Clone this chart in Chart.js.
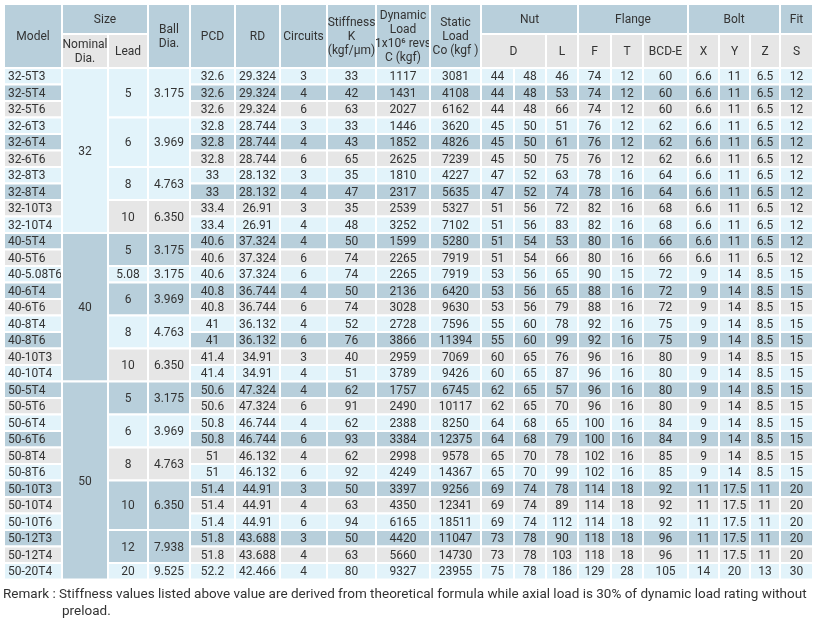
<!DOCTYPE html>
<html><head><meta charset="utf-8">
<script src="https://cdn.jsdelivr.net/npm/chart.js@4/dist/chart.umd.min.js"></script>
<style>html,body{margin:0;padding:0;background:#fff}#wrap{width:817px;height:624px}</style>
</head><body><div id="wrap"><canvas id="c" width="817" height="624"></canvas></div>
<script>
// ---- data ----
const models=["32-5T3","32-5T4","32-5T6","32-6T3","32-6T4","32-6T6","32-8T3","32-8T4","32-10T3","32-10T4",
"40-5T4","40-5T6","40-5.08T6","40-6T4","40-6T6","40-8T4","40-8T6","40-10T3","40-10T4",
"50-5T4","50-5T6","50-6T4","50-6T6","50-8T4","50-8T6","50-10T3","50-10T4","50-10T6","50-12T3","50-12T4","50-20T4"];
const nominalGroups=[["32",10],["40",9],["50",12]];
const leadGroups=[["5","3.175",3],["6","3.969",3],["8","4.763",2],["10","6.350",2],
["5","3.175",2],["5.08","3.175",1],["6","3.969",2],["8","4.763",2],["10","6.350",2],
["5","3.175",2],["6","3.969",2],["8","4.763",2],["10","6.350",3],["12","7.938",2],["20","9.525",1]];
const pcd=["32.6","32.6","32.6","32.8","32.8","32.8","33","33","33.4","33.4","40.6","40.6","40.6","40.8","40.8","41","41","41.4","41.4","50.6","50.6","50.8","50.8","51","51","51.4","51.4","51.4","51.8","51.8","52.2"];
const rd=["29.324","29.324","29.324","28.744","28.744","28.744","28.132","28.132","26.91","26.91","37.324","37.324","37.324","36.744","36.744","36.132","36.132","34.91","34.91","47.324","47.324","46.744","46.744","46.132","46.132","44.91","44.91","44.91","43.688","43.688","42.466"];
const circuits=[3,4,6,3,4,6,3,4,3,4,4,6,6,4,6,4,6,3,4,4,6,4,6,4,6,3,4,6,3,4,4];
const stiffness=[33,42,63,33,43,65,35,47,35,48,50,74,74,50,74,52,76,40,51,62,91,62,93,62,92,50,63,94,50,63,80];
const dynLoad=[1117,1431,2027,1446,1852,2625,1810,2317,2539,3252,1599,2265,2265,2136,3028,2728,3866,2959,3789,1757,2490,2388,3384,2998,4249,3397,4350,6165,4420,5660,9327];
const staticLoad=[3081,4108,6162,3620,4826,7239,4227,5635,5327,7102,5280,7919,7919,6420,9630,7596,11394,7069,9426,6745,10117,8250,12375,9578,14367,9256,12341,18511,11047,14730,23955];
const nutD1=[44,44,44,45,45,45,47,47,51,51,51,51,53,53,53,55,55,60,60,62,62,64,64,65,65,69,69,69,73,73,75];
const nutD2=[48,48,48,50,50,50,52,52,56,56,54,54,56,56,56,60,60,65,65,65,65,68,68,70,70,74,74,74,78,78,78];
const nutL=[46,53,66,51,61,75,63,74,72,83,53,66,65,65,79,78,99,76,87,57,70,65,79,78,99,78,89,112,90,103,186];
const flF=[74,74,74,76,76,76,78,78,82,82,80,80,90,88,88,92,92,96,96,96,96,100,100,102,102,114,114,114,118,118,129];
const flT=[12,12,12,12,12,12,16,16,16,16,16,16,15,16,16,16,16,16,16,16,16,16,16,16,16,18,18,18,18,18,28];
const bcd=[60,60,60,62,62,62,64,64,68,68,66,66,72,72,72,75,75,80,80,80,80,84,84,85,85,92,92,92,96,96,105];
const boltX=["6.6","6.6","6.6","6.6","6.6","6.6","6.6","6.6","6.6","6.6","6.6","6.6","9","9","9","9","9","9","9","9","9","9","9","9","9","11","11","11","11","11","14"];
const boltY=["11","11","11","11","11","11","11","11","11","11","11","11","14","14","14","14","14","14","14","14","14","14","14","14","14","17.5","17.5","17.5","17.5","17.5","20"];
const boltZ=["6.5","6.5","6.5","6.5","6.5","6.5","6.5","6.5","6.5","6.5","6.5","6.5","8.5","8.5","8.5","8.5","8.5","8.5","8.5","8.5","8.5","8.5","8.5","8.5","8.5","11","11","11","11","11","13"];
const fitS=[12,12,12,12,12,12,12,12,12,12,12,12,15,15,15,15,15,15,15,15,15,15,15,15,15,20,20,20,20,20,30];
const remark1="Remark : Stiffness values listed above value are derived from theoretical formula while axial load is 30% of dynamic load rating without";
const remark2="preload.";

// ---- layout (value space of the scales) ----
const colEdges=[4,62,108,148,190,235,280,327,376,430,481,514,546,578,611,643,688,719,750,780,813];
const yTop=4,yMid=34,yHead=68,rowH=16.5;
const rowColors=["#e2f3fa","#b8cfdb","#e6e6e6"];
const headBg="#b8cfdb",subBg="#e6e6e6",txt="#333";

const tablePlugin={id:'table',afterDraw(chart){
 const ctx=chart.ctx,X=v=>chart.scales.x.getPixelForValue(v),Y=v=>chart.scales.y.getPixelForValue(v);
 ctx.save();
 function cell(c0,c1,y0,y1,bg,lines,align,head){
  const x0=X(colEdges[c0]),x1=X(colEdges[c1]),py0=Y(y0),py1=Y(y1);
  ctx.fillStyle=bg;ctx.fillRect(x0,py0,x1-x0,py1-py0);
  ctx.strokeStyle="#fff";ctx.lineWidth=2;ctx.strokeRect(x0,py0,x1-x0,py1-py0);
  if(!lines)return;
  ctx.fillStyle=txt;ctx.font=head?"12px Roboto, sans-serif":"12px Roboto, sans-serif";ctx.textBaseline="middle";
  const lh=head?14:15,n=lines.length,cy=(py0+py1)/2;
  lines.forEach((s,i)=>{
   const y=cy+(i-(n-1)/2)*lh+1;
   if(align==="left"){ctx.textAlign="left";ctx.fillText(s,x0+4,y);}
   else{ctx.textAlign="center";ctx.fillText(s,(x0+x1)/2,y);}
  });
 }
 const H=(a,b,y0,y1,bg,l)=>cell(a,b,y0,y1,bg,l,null,true);
 H(0,1,yTop,yHead,headBg,["Model"]);
 H(1,3,yTop,yMid,headBg,["Size"]);
 H(1,2,yMid,yHead,subBg,["Nominal","Dia."]);
 H(2,3,yMid,yHead,subBg,["Lead"]);
 H(3,4,yTop,yHead,headBg,["Ball","Dia."]);
 H(4,5,yTop,yHead,headBg,["PCD"]);
 H(5,6,yTop,yHead,headBg,["RD"]);
 H(6,7,yTop,yHead,headBg,["Circuits"]);
 H(7,8,yTop,yHead,headBg,["Stiffness","K","(kgf/μm)"]);
 H(8,9,yTop,yHead,headBg,["Dynamic","Load","1x10⁶ revs","C (kgf)"]);
 H(9,10,yTop,yHead,headBg,["Static","Load","Co (kgf )"]);
 H(10,13,yTop,yMid,headBg,["Nut"]);
 H(10,12,yMid,yHead,subBg,["D"]);
 H(12,13,yMid,yHead,subBg,["L"]);
 H(13,16,yTop,yMid,headBg,["Flange"]);
 H(13,14,yMid,yHead,subBg,["F"]);
 H(14,15,yMid,yHead,subBg,["T"]);
 H(15,16,yMid,yHead,subBg,["BCD-E"]);
 H(16,19,yTop,yMid,headBg,["Bolt"]);
 H(16,17,yMid,yHead,subBg,["X"]);
 H(17,18,yMid,yHead,subBg,["Y"]);
 H(18,19,yMid,yHead,subBg,["Z"]);
 H(19,20,yTop,yMid,headBg,["Fit"]);
 H(19,20,yMid,yHead,subBg,["S"]);
 const cols=[pcd,rd,circuits,stiffness,dynLoad,staticLoad,nutD1,nutD2,nutL,flF,flT,bcd,boltX,boltY,boltZ,fitS];
 models.forEach((m,i)=>{
  const y0=yHead+i*rowH,y1=y0+rowH,bg=rowColors[i%3];
  cell(0,1,y0,y1,bg,[m],"left");
  cols.forEach((arr,k)=>cell(4+k,5+k,y0,y1,bg,[String(arr[i])]));
 });
 let r=0;
 nominalGroups.forEach(([v,n])=>{cell(1,2,yHead+r*rowH,yHead+(r+n)*rowH,rowColors[r%3],[v]);r+=n;});
 r=0;
 leadGroups.forEach(([l,b,n])=>{const bg=rowColors[r%3],y0=yHead+r*rowH,y1=yHead+(r+n)*rowH;
  cell(2,3,y0,y1,bg,[l]);cell(3,4,y0,y1,bg,[b]);r+=n;});
 ctx.fillStyle=txt;ctx.font="13.5px Roboto, sans-serif";ctx.textAlign="left";ctx.textBaseline="middle";
 ctx.fillText(remark1,X(3),Y(595));
 ctx.fillText(remark2,X(62),Y(612));
 ctx.restore();
}};

new Chart(document.getElementById('c'),{
 type:'scatter',
 data:{datasets:[{data:[],pointRadius:0}]},
 options:{responsive:false,animation:false,devicePixelRatio:1,
  layout:{padding:0},
  plugins:{legend:{display:false},tooltip:{enabled:false}},
  scales:{x:{type:'linear',min:0,max:817,display:false},
          y:{type:'linear',min:0,max:624,reverse:true,display:false}}},
 plugins:[tablePlugin]
});
</script></body></html>
